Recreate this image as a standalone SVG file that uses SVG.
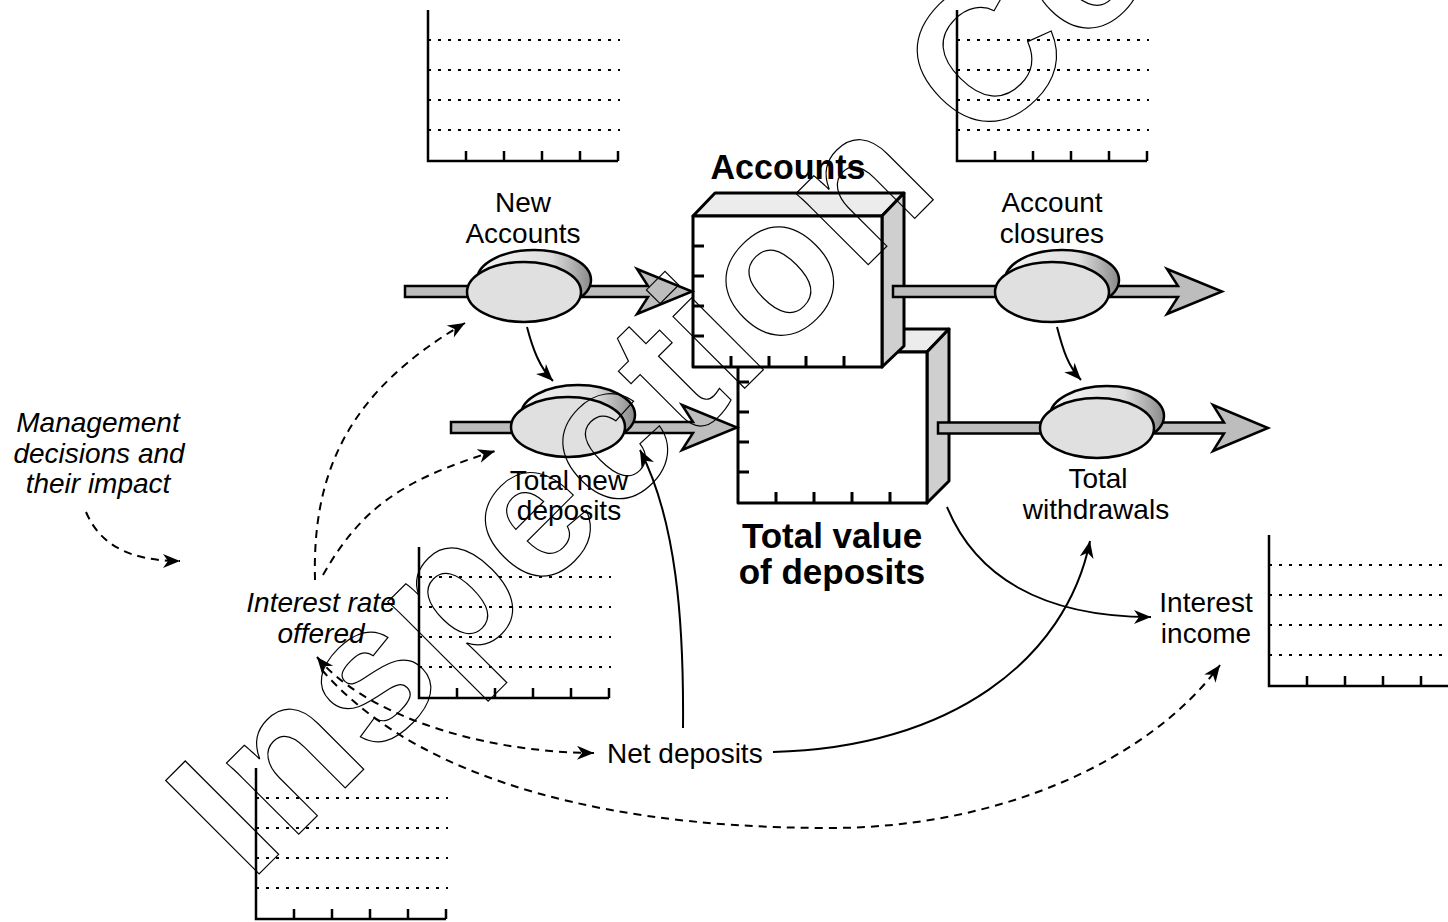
<svg xmlns="http://www.w3.org/2000/svg" width="1448" height="922" viewBox="0 0 1448 922">
<defs>
<style>
.lbl{font-family:"Liberation Sans",Arial,sans-serif;font-size:28px;fill:#000;text-anchor:middle}
.it{font-style:italic}
.ttl{font-family:"Liberation Sans",Arial,sans-serif;font-size:35px;font-weight:bold;fill:#000;text-anchor:middle}
.pipe{fill:#bdbdbd;stroke:#000;stroke-width:2.5;stroke-linejoin:miter}
.vback{fill:url(#vg);stroke:#000;stroke-width:2.5}
.vfront{fill:#e0e0e0;stroke:#000;stroke-width:2.5}
.face{fill:#fff;stroke:#000;stroke-width:3;stroke-linejoin:round}
.top{fill:#ececec;stroke:#000;stroke-width:3;stroke-linejoin:round}
.side{fill:#cfcfcf;stroke:#000;stroke-width:3;stroke-linejoin:round}
.tick{fill:none;stroke:#000;stroke-width:3}
.axis{fill:none;stroke:#000;stroke-width:2.5}
.ctick{fill:none;stroke:#000;stroke-width:2.5}
.grid{fill:none;stroke:#000;stroke-width:2;stroke-dasharray:3 7}
.solid{fill:none;stroke:#000;stroke-width:2}
.dash{fill:none;stroke:#000;stroke-width:2;stroke-dasharray:8 6}
.wm{font-family:"Liberation Sans",Arial,sans-serif;font-size:192px;font-weight:bold;fill:none;stroke:#000;stroke-width:1.2;letter-spacing:2px}
</style>
<linearGradient id="vg" x1="0" y1="0" x2="1" y2="0">
<stop offset="0" stop-color="#f4f4f4"/>
<stop offset="0.65" stop-color="#dedede"/>
<stop offset="1" stop-color="#8a8a8a"/>
</linearGradient>
<marker id="ah" markerUnits="userSpaceOnUse" markerWidth="20" markerHeight="18" viewBox="-17 -9 19 18" refX="0" refY="0" orient="auto-start-reverse">
<path d="M0,0 L-17,-7 L-12,0 L-17,7 Z" fill="#000"/>
</marker>
<g id="chartTpl">
<path class="grid" d="M0,30H192M0,60H192M0,90H192M0,120H192"/>
<path class="axis" d="M0,0V151H190"/>
<path class="ctick" d="M38,141V151M76,141V151M114,141V151M152,141V151M190,141V151"/>
</g>
</defs>
<rect width="1448" height="922" fill="#fff"/>

<!-- charts -->
<g id="chart-new-accounts"><use href="#chartTpl" x="428" y="10"/></g>
<g id="chart-closures"><use href="#chartTpl" x="957" y="10"/></g>
<g id="chart-interest-rate"><use href="#chartTpl" x="419" y="547"/></g>
<g id="chart-net-deposits"><use href="#chartTpl" x="256" y="768"/></g>
<g id="chart-interest-income"><use href="#chartTpl" x="1269" y="535"/></g>

<!-- lower stock: Total value of deposits -->
<g id="stock-deposits">
<polygon class="top" points="738,352 760,329 949,329 927,352"/>
<polygon class="side" points="927,352 949,329 949,481 927,503"/>
<rect class="face" x="738" y="352" width="189" height="151"/>
<path class="tick" d="M738,382H749M738,412H749M738,442H749M738,472H749M776,503V492M814,503V492M852,503V492M890,503V492"/>
<text class="ttl" x="832" y="548">Total value</text>
<text class="ttl" x="832" y="584">of deposits</text>
</g>

<!-- upper stock: Accounts -->
<g id="stock-accounts">
<polygon class="top" points="693,216 715,193 904,193 882,216"/>
<polygon class="side" points="882,216 904,193 904,346 882,367"/>
<rect class="face" x="693" y="216" width="189" height="151"/>
<path class="tick" d="M693,246H704M693,276H704M693,306H704M693,336H704M731,367V356M769,367V356M806,367V356M844,367V356"/>
<text class="ttl" x="788" y="179" textLength="155" lengthAdjust="spacingAndGlyphs">Accounts</text>
</g>

<!-- flows -->
<g id="flow-new-accounts">
<polygon class="pipe" points="405,286 648,286 637,269 692,291.5 637,314 648,297 405,297"/>
<ellipse class="vback" cx="534" cy="280" rx="57" ry="30"/>
<ellipse class="vfront" cx="524" cy="292" rx="57" ry="30"/>
<text class="lbl" x="523" y="212">New</text>
<text class="lbl" x="523" y="243">Accounts</text>
</g>

<g id="flow-closures">
<polygon class="pipe" points="893,286 1178,286 1167,269 1222,291.5 1167,314 1178,297 893,297"/>
<ellipse class="vback" cx="1062" cy="280" rx="57" ry="30"/>
<ellipse class="vfront" cx="1052" cy="292" rx="57" ry="30"/>
<text class="lbl" x="1052" y="212">Account</text>
<text class="lbl" x="1052" y="243">closures</text>
</g>

<g id="flow-new-deposits">
<polygon class="pipe" points="451,422 693,422 682,405 737,427.5 682,450 693,433 451,433"/>
<ellipse class="vback" cx="578" cy="415" rx="57" ry="30"/>
<ellipse class="vfront" cx="568" cy="427" rx="57" ry="30"/>
<text class="lbl" x="569" y="490">Total new</text>
<text class="lbl" x="569" y="520">deposits</text>
</g>

<g id="flow-withdrawals">
<polygon class="pipe" points="938,422.5 1224,422.5 1213,405 1268,428 1213,451 1224,433.5 938,433.5"/>
<ellipse class="vback" cx="1107" cy="416" rx="57" ry="30"/>
<ellipse class="vfront" cx="1097" cy="428" rx="57" ry="30"/>
<text class="lbl" x="1098" y="488">Total</text>
<text class="lbl" x="1096" y="519">withdrawals</text>
</g>

<g id="interest-income">
<text class="lbl" x="1206" y="612">Interest</text>
<text class="lbl" x="1206" y="643">income</text>
</g>

<g id="net-deposits">
<text class="lbl" x="607" y="763" style="text-anchor:start">Net deposits</text>
</g>

<g id="management">
<text class="lbl it" x="98" y="432">Management</text>
<text class="lbl it" x="99" y="463">decisions and</text>
<text class="lbl it" x="98" y="493">their impact</text>
</g>

<g id="interest-rate">
<text class="lbl it" x="321" y="612">Interest rate</text>
<text class="lbl it" x="321" y="643">offered</text>
</g>

<!-- connectors -->
<g id="connectors">
<path class="solid" marker-end="url(#ah)" d="M527,327 C533,350 540,368 553,381"/>
<path class="solid" marker-end="url(#ah)" d="M1057,327 C1063,350 1068,366 1081,380"/>
<path class="solid" marker-end="url(#ah)" d="M683,728 C684,620 676,520 640,450"/>
<path class="solid" marker-end="url(#ah)" d="M773,752 C950,748 1066,660 1090,541"/>
<path class="solid" marker-end="url(#ah)" d="M947,507 C975,575 1040,617 1151,617"/>
<path class="dash" marker-end="url(#ah)" d="M86,512 C100,545 130,561 180,561"/>
<path class="dash" marker-end="url(#ah)" d="M315,580 C312,470 350,390 465,323"/>
<path class="dash" marker-end="url(#ah)" d="M323,575 C360,510 400,480 495,451"/>
<path class="dash" marker-start="url(#ah)" marker-end="url(#ah)" d="M317,657 C360,710 470,752 594,753"/>
<path class="dash" marker-end="url(#ah)" d="M322,670 C400,760 560,828 830,828 C1000,828 1150,760 1220,665"/>
</g>

<!-- watermark -->
<g id="watermark">
<text class="wm" transform="translate(250,883) rotate(-45)">Inspection Copy</text>
</g>
</svg>
